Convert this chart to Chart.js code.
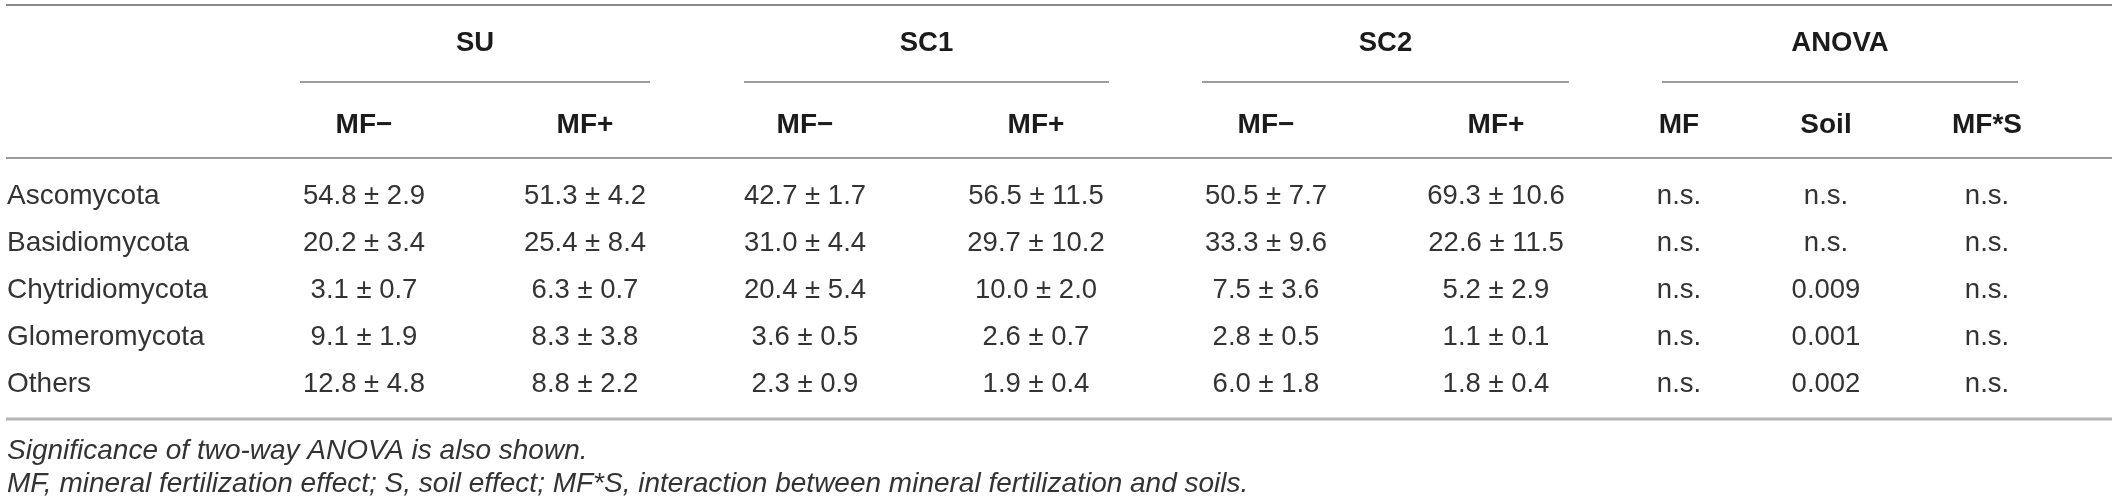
<!DOCTYPE html>
<html>
<head>
<meta charset="utf-8">
<script src="https://cdn.jsdelivr.net/npm/chart.js@4.4.1/dist/chart.umd.min.js"></script>
<style>
  html, body { margin: 0; padding: 0; background: #ffffff; }
  #wrap { width: 2118px; height: 503px; }
</style>
</head>
<body>
<div id="wrap"><canvas id="c" width="2118" height="503"></canvas></div>
<script>
// ---------------- DATA ----------------
const categories = ["Ascomycota", "Basidiomycota", "Chytridiomycota", "Glomeromycota", "Others"];

const groupLabels = ["SU", "SC1", "SC2", "ANOVA"];
const columnLabels = ["MF\u2212", "MF+", "MF\u2212", "MF+", "MF\u2212", "MF+", "MF", "Soil", "MF*S"];

const suMinusMean  = [54.8, 20.2, 3.1, 9.1, 12.8];
const suMinusSd    = [2.9, 3.4, 0.7, 1.9, 4.8];
const suPlusMean   = [51.3, 25.4, 6.3, 8.3, 8.8];
const suPlusSd     = [4.2, 8.4, 0.7, 3.8, 2.2];
const sc1MinusMean = [42.7, 31.0, 20.4, 3.6, 2.3];
const sc1MinusSd   = [1.7, 4.4, 5.4, 0.5, 0.9];
const sc1PlusMean  = [56.5, 29.7, 10.0, 2.6, 1.9];
const sc1PlusSd    = [11.5, 10.2, 2.0, 0.7, 0.4];
const sc2MinusMean = [50.5, 33.3, 7.5, 2.8, 6.0];
const sc2MinusSd   = [7.7, 9.6, 3.6, 0.5, 1.8];
const sc2PlusMean  = [69.3, 22.6, 5.2, 1.1, 1.8];
const sc2PlusSd    = [10.6, 11.5, 2.9, 0.1, 0.4];

const anovaMF   = ["n.s.", "n.s.", "n.s.", "n.s.", "n.s."];
const anovaSoil = ["n.s.", "n.s.", "0.009", "0.001", "0.002"];
const anovaMFS  = ["n.s.", "n.s.", "n.s.", "n.s.", "n.s."];

const footnotes = [
  "Significance of two-way ANOVA is also shown.",
  "MF, mineral fertilization effect; S, soil effect; MF*S, interaction between mineral fertilization and soils."
];

// ---------------- LAYOUT (scale units) ----------------
const W = 2118, H = 503;
const colX = [364, 585, 805, 1036, 1266, 1496, 1679, 1826, 1987];
const groupSpans = [[300, 650], [744, 1109], [1202, 1569], [1662, 2018]];
const labelX = 7;
const groupY = 43, subY = 125, rowY = [196, 243, 290, 337, 384];
const footY = [451, 484];
const rules = [
  { y: 5,   x1: 6, x2: 2112, w: 2,   c: "#8a8a8a" },
  { y: 158, x1: 6, x2: 2112, w: 1.6, c: "#7a7a7a" },
  { y: 419, x1: 6, x2: 2112, w: 3,   c: "#b4b4b4" }
];

const fmt = (m, s) => m.map((v, i) => v.toFixed(1) + " \u00B1 " + s[i].toFixed(1));
const cellColumns = [
  fmt(suMinusMean, suMinusSd), fmt(suPlusMean, suPlusSd),
  fmt(sc1MinusMean, sc1MinusSd), fmt(sc1PlusMean, sc1PlusSd),
  fmt(sc2MinusMean, sc2MinusSd), fmt(sc2PlusMean, sc2PlusSd),
  anovaMF, anovaSoil, anovaMFS
];

const FONT = '"Liberation Sans", Arial, Helvetica, sans-serif';
const datasets = [];

// rule lines
rules.forEach(r => datasets.push({
  type: 'line', data: [{ x: r.x1, y: r.y }, { x: r.x2, y: r.y }],
  borderColor: r.c, borderWidth: r.w, pointRadius: 0, fill: false
}));
groupSpans.forEach(s => datasets.push({
  type: 'line', data: [{ x: s[0], y: 82 }, { x: s[1], y: 82 }],
  borderColor: "#7d7d7d", borderWidth: 1.4, pointRadius: 0, fill: false
}));

// group headers
datasets.push({
  type: 'scatter', pointRadius: 0,
  data: groupSpans.map(s => ({ x: (s[0] + s[1]) / 2, y: groupY })),
  textLabels: groupLabels, textFont: 'bold 27.5px ' + FONT, textColor: '#1b1b1b', textAlign: 'center'
});
// column headers
datasets.push({
  type: 'scatter', pointRadius: 0,
  data: colX.map(x => ({ x: x, y: subY })),
  textLabels: columnLabels, textFont: 'bold 28px ' + FONT, textColor: '#1b1b1b', textAlign: 'center'
});
// row labels
datasets.push({
  type: 'scatter', pointRadius: 0,
  data: categories.map((c, i) => ({ x: labelX, y: rowY[i] })),
  textLabels: categories, textFont: '28px ' + FONT, textColor: '#333333', textAlign: 'left'
});
// cells
cellColumns.forEach((col, j) => datasets.push({
  type: 'scatter', pointRadius: 0,
  data: col.map((v, i) => ({ x: colX[j], y: rowY[i] })),
  textLabels: col, textFont: '27.5px ' + FONT, textColor: '#333333', textAlign: 'center'
}));
// footnotes
datasets.push({
  type: 'scatter', pointRadius: 0,
  data: footnotes.map((f, i) => ({ x: labelX, y: footY[i] })),
  textLabels: footnotes, textFont: 'italic 28px ' + FONT, textColor: '#333333', textAlign: 'left'
});

const textPlugin = {
  id: 'cellText',
  afterDatasetsDraw(chart) {
    const ctx = chart.ctx;
    chart.data.datasets.forEach((ds, i) => {
      if (!ds.textLabels) return;
      const meta = chart.getDatasetMeta(i);
      ctx.save();
      ctx.font = ds.textFont;
      ctx.fillStyle = ds.textColor;
      ctx.textAlign = ds.textAlign;
      ctx.textBaseline = 'middle';
      meta.data.forEach((el, k) => {
        ctx.fillText(ds.textLabels[k], el.x, el.y);
      });
      ctx.restore();
    });
  }
};

new Chart(document.getElementById('c'), {
  type: 'scatter',
  data: { datasets },
  options: {
    responsive: false,
    animation: false,
    layout: { padding: 0 },
    plugins: { legend: { display: false }, tooltip: { enabled: false } },
    scales: {
      x: { type: 'linear', min: 0, max: W, display: false },
      y: { type: 'linear', min: 0, max: H, reverse: true, display: false }
    }
  },
  plugins: [textPlugin]
});
</script>
</body>
</html>
